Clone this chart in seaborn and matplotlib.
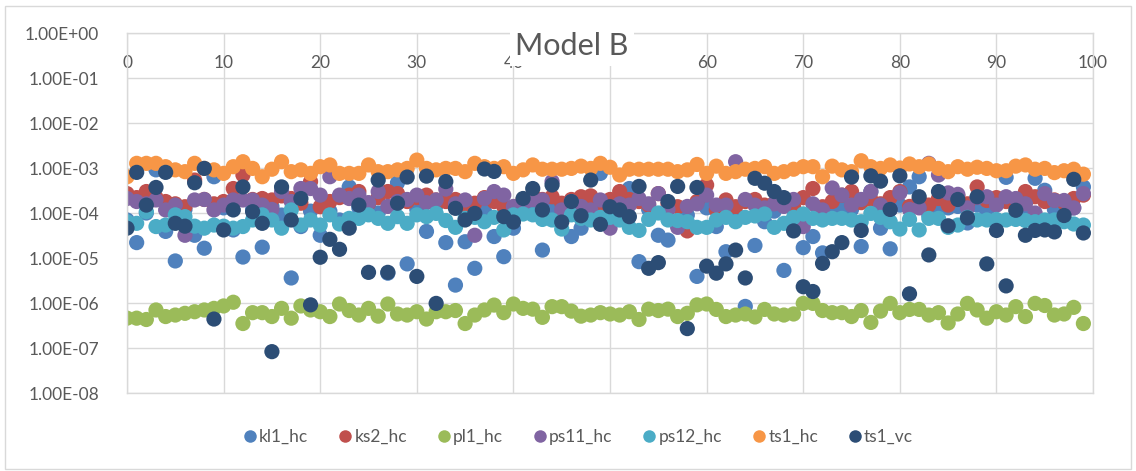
import numpy as np
import pandas as pd
import seaborn as sns
import matplotlib.pyplot as plt
from matplotlib.ticker import FuncFormatter, LogLocator, NullLocator
from matplotlib.lines import Line2D
from matplotlib.patches import Rectangle

# values (100 runs per series)
runs = list(range(100))
series_names = ['kl1_hc', 'ks2_hc', 'pl1_hc', 'ps11_hc', 'ps12_hc', 'ts1_hc', 'ts1_vc']
series_colors = ['#4F81BD', '#C0504D', '#9BBB59', '#8064A2', '#4BACC6', '#F79646', '#2C4D75']

kl1_hc = [7.0e-5, 2.2e-5, 1.0e-4, 9.1e-4, 3.9e-5, 8.6e-6, 1.2e-4, 3.2e-5, 1.65e-5, 6.4e-4,
          1.3e-4, 4.2e-5, 1.05e-5, 1.2e-4, 1.74e-5, 1.4e-4, 9.0e-5, 3.6e-6, 5.0e-5, 1.1e-4,
          3.2e-5, 1.1e-4, 7.0e-5, 3.8e-4, 1.3e-4, 1.5e-4, 1.0e-4, 4.6e-6, 4.7e-4, 7.4e-6,
          1.2e-4, 3.9e-5, 1.5e-4, 2.2e-5, 2.5e-6, 2.3e-5, 5.9e-6, 1.1e-4, 3.0e-5, 1.07e-5,
          4.6e-5, 1.2e-4, 1.3e-4, 1.5e-5, 1.4e-4, 1.0e-4, 3.0e-5, 4.6e-5, 1.3e-4, 7.6e-4,
          1.1e-4, 1.5e-4, 3.5e-4, 8.3e-6, 1.2e-4, 3.2e-5, 2.5e-5, 6.0e-5, 9.0e-5, 3.9e-6,
          1.3e-4, 5.0e-5, 1.38e-5, 1.0e-4, 8.4e-7, 1.9e-5, 6.4e-5, 1.1e-4, 5.3e-6, 1.2e-4,
          1.7e-5, 3.0e-5, 1.3e-5, 1.0e-4, 1.5e-4, 1.2e-4, 1.8e-5, 3.0e-4, 4.6e-5, 1.6e-5,
          1.5e-4, 3.8e-4, 6.4e-4, 9.0e-5, 1.2e-4, 1.3e-4, 1.4e-4, 6.0e-5, 1.5e-4, 1.0e-4,
          1.7e-4, 6.2e-4, 2.0e-4, 1.2e-4, 5.9e-4, 3.2e-4, 1.2e-4, 1.0e-4, 1.3e-4, 3.8e-4]

ks2_hc = [2.7e-4, 2.2e-4, 3.0e-4, 2.2e-4, 1.8e-4, 1.6e-4, 1.38e-4, 5.4e-4, 2.0e-4, 1.6e-4,
          1.8e-4, 3.5e-4, 7.0e-4, 2.0e-4, 2.1e-4, 1.95e-4, 2.4e-4, 2.1e-4, 1.65e-4, 5.0e-4,
          1.38e-4, 1.8e-4, 2.2e-4, 2.5e-4, 3.0e-4, 1.65e-4, 2.2e-4, 3.0e-4, 2.7e-4, 1.8e-4,
          2.2e-4, 2.5e-4, 1.95e-4, 1.8e-4, 2.0e-4, 1.38e-4, 1.65e-4, 2.2e-4, 1.8e-4, 1.38e-4,
          1.3e-4, 2.0e-4, 2.5e-4, 2.0e-4, 2.3e-4, 1.65e-4, 2.0e-4, 2.3e-4, 2.4e-4, 1.5e-4,
          2.0e-4, 3.0e-4, 2.0e-4, 1.8e-4, 1.5e-4, 2.7e-4, 1.6e-4, 1.38e-4, 4.0e-5, 1.8e-4,
          4.2e-4, 1.17e-4, 1.95e-4, 1.38e-4, 1.8e-4, 2.0e-4, 1.5e-4, 1.65e-4, 1.5e-4, 1.38e-4,
          2.2e-4, 3.5e-4, 1.38e-4, 1.8e-4, 2.5e-4, 3.0e-4, 1.7e-4, 2.0e-4, 1.6e-4, 2.2e-4,
          3.0e-4, 1.4e-4, 2.0e-4, 1.5e-4, 2.1e-4, 1.5e-4, 2.4e-4, 1.6e-4, 3.8e-4, 1.9e-4,
          2.2e-4, 1.8e-4, 2.0e-4, 3.0e-4, 2.3e-4, 1.8e-4, 1.95e-4, 1.7e-4, 2.1e-4, 2.5e-4]

pl1_hc = [4.6e-7, 4.6e-7, 4.3e-7, 7.0e-7, 5.0e-7, 5.4e-7, 5.9e-7, 6.4e-7, 7.0e-7, 7.6e-7,
          8.6e-7, 1.04e-6, 3.5e-7, 6.1e-7, 6.1e-7, 5.0e-7, 7.6e-7, 4.6e-7, 8.6e-7, 7.0e-7,
          6.4e-7, 5.0e-7, 9.5e-7, 6.8e-7, 5.4e-7, 7.6e-7, 5.1e-7, 9.5e-7, 5.7e-7, 5.4e-7,
          6.4e-7, 4.4e-7, 6.4e-7, 6.4e-7, 6.8e-7, 3.5e-7, 5.4e-7, 7.0e-7, 9.0e-7, 6.1e-7,
          9.5e-7, 7.6e-7, 7.3e-7, 4.8e-7, 8.3e-7, 8.3e-7, 6.6e-7, 5.1e-7, 5.4e-7, 6.1e-7,
          5.7e-7, 5.4e-7, 6.4e-7, 4.3e-7, 7.3e-7, 6.8e-7, 7.3e-7, 5.0e-7, 5.9e-7, 9.1e-7,
          9.5e-7, 7.2e-7, 5.0e-7, 5.4e-7, 5.7e-7, 4.9e-7, 7.2e-7, 5.7e-7, 5.4e-7, 5.7e-7,
          9.8e-7, 9.8e-7, 6.8e-7, 6.1e-7, 6.1e-7, 5.0e-7, 6.8e-7, 3.7e-7, 6.6e-7, 9.8e-7,
          6.1e-7, 7.2e-7, 7.2e-7, 5.4e-7, 6.1e-7, 3.6e-7, 5.7e-7, 9.8e-7, 7.0e-7, 4.6e-7,
          6.4e-7, 5.4e-7, 8.3e-7, 5.0e-7, 9.8e-7, 8.8e-7, 5.4e-7, 5.7e-7, 8.0e-7, 3.5e-7]

ps11_hc = [2.1e-4, 1.8e-4, 1.6e-4, 1.95e-4, 1.17e-4, 1.5e-4, 3.2e-5, 1.95e-4, 2.0e-4, 1.17e-4,
           1.5e-4, 1.95e-4, 1.95e-4, 1.95e-4, 1.5e-4, 1.2e-4, 3.0e-4, 1.8e-4, 3.5e-4, 3.5e-4,
           2.5e-4, 6.4e-4, 2.5e-4, 2.1e-4, 2.5e-4, 1.7e-4, 3.0e-4, 1.4e-4, 1.8e-4, 2.0e-4,
           2.5e-4, 1.7e-4, 1.95e-4, 3.4e-4, 1.6e-4, 1.95e-4, 3.2e-5, 2.1e-4, 3.0e-4, 2.5e-4,
           1.4e-4, 1.5e-4, 1.95e-4, 1.95e-4, 5.0e-4, 1.17e-4, 1.8e-4, 1.4e-4, 1.17e-4, 1.95e-4,
           4.6e-5, 1.6e-4, 1.5e-4, 2.1e-4, 1.6e-4, 2.7e-4, 1.2e-4, 4.8e-5, 1.4e-4, 1.6e-4,
           2.5e-4, 1.5e-4, 1.5e-4, 1.38e-3, 2.0e-4, 1.5e-4, 1.3e-4, 1.6e-4, 1.4e-4, 2.0e-4,
           5.0e-5, 1.6e-4, 1.17e-4, 3.6e-4, 2.5e-4, 1.5e-4, 2.0e-4, 3.0e-4, 1.5e-4, 1.2e-4,
           2.8e-4, 1.2e-4, 1.3e-4, 1.27e-3, 7.0e-4, 2.8e-4, 2.6e-4, 1.3e-4, 2.2e-4, 2.3e-4,
           1.5e-4, 2.3e-4, 2.1e-4, 1.6e-4, 1.0e-4, 2.7e-4, 1.9e-4, 1.9e-4, 1.3e-4, 2.7e-4]

ps12_hc = [6.4e-5, 5.9e-5, 1.07e-4, 5.0e-5, 5.4e-5, 9.1e-5, 8.3e-5, 5.1e-5, 4.6e-5, 5.4e-5,
           5.1e-5, 4.6e-5, 5.0e-5, 7.0e-5, 9.1e-5, 7.0e-5, 4.6e-5, 1.17e-4, 5.4e-5, 7.0e-5,
           5.4e-5, 9.1e-5, 5.7e-5, 7.6e-5, 7.6e-5, 9.1e-5, 7.6e-5, 5.9e-5, 8.3e-5, 5.9e-5,
           9.1e-5, 8.3e-5, 9.8e-5, 6.8e-5, 4.8e-5, 7.6e-5, 8.0e-5, 6.4e-5, 8.0e-5, 4.2e-5,
           9.1e-5, 9.5e-5, 9.1e-5, 7.2e-5, 7.0e-5, 4.4e-5, 9.1e-5, 7.6e-5, 7.0e-5, 8.0e-5,
           8.0e-5, 7.0e-5, 4.8e-5, 4.1e-5, 7.2e-5, 1.0e-4, 7.0e-5, 6.8e-5, 6.4e-5, 4.8e-5,
           4.8e-5, 7.0e-5, 8.0e-5, 6.4e-5, 8.0e-5, 8.6e-5, 9.5e-5, 4.8e-5, 5.9e-5, 8.0e-5,
           9.5e-5, 7.6e-5, 7.0e-5, 7.6e-5, 7.6e-5, 7.0e-5, 6.4e-5, 9.8e-5, 8.0e-5, 6.4e-5,
           4.4e-5, 7.2e-5, 4.2e-5, 7.6e-5, 7.6e-5, 4.8e-5, 5.4e-5, 8.0e-5, 7.0e-5, 7.0e-5,
           7.2e-5, 7.0e-5, 7.2e-5, 6.8e-5, 6.4e-5, 7.0e-5, 7.0e-5, 6.4e-5, 5.7e-5, 5.4e-5]

ts1_hc = [6.4e-4, 1.27e-3, 1.27e-3, 1.27e-3, 1.07e-3, 9.1e-4, 8.3e-4, 1.27e-3, 9.8e-4, 9.1e-4,
          7.6e-4, 1.07e-3, 1.38e-3, 9.8e-4, 6.4e-4, 9.4e-4, 1.38e-3, 8.3e-4, 9.1e-4, 7.6e-4,
          1.07e-3, 1.17e-3, 7.6e-4, 7.6e-4, 7.6e-4, 1.17e-3, 8.3e-4, 8.3e-4, 9.1e-4, 9.8e-4,
          1.5e-3, 9.8e-4, 9.1e-4, 9.8e-4, 9.8e-4, 8.3e-4, 1.27e-3, 1.07e-3, 9.8e-4, 1.07e-3,
          7.6e-4, 9.1e-4, 1.17e-3, 9.4e-4, 9.4e-4, 9.4e-4, 9.8e-4, 1.1e-3, 9.8e-4, 1.27e-3,
          1.04e-3, 7.0e-4, 9.4e-4, 9.4e-4, 9.4e-4, 9.4e-4, 9.4e-4, 8.3e-4, 9.1e-4, 1.2e-3,
          7.6e-4, 1.1e-3, 7.6e-4, 8.3e-4, 9.4e-4, 9.8e-4, 1.07e-3, 7.6e-4, 8.3e-4, 9.4e-4,
          1.07e-3, 1.07e-3, 6.4e-4, 1.1e-3, 9.1e-4, 8.3e-4, 1.45e-3, 1.07e-3, 9.8e-4, 1.17e-3,
          1.0e-3, 1.23e-3, 1.07e-3, 1.23e-3, 9.8e-4, 8.3e-4, 1.07e-3, 9.4e-4, 1.04e-3, 9.8e-4,
          8.7e-4, 8.7e-4, 1.1e-3, 1.17e-3, 9.4e-4, 9.8e-4, 7.9e-4, 8.7e-4, 9.4e-4, 7.3e-4]

ts1_vc = [4.6e-5, 8.0e-4, 1.5e-4, 3.7e-4, 8.0e-4, 5.9e-5, 5.1e-5, 4.7e-4, 9.8e-4, 4.4e-7,
          4.2e-5, 1.17e-4, 3.8e-4, 1.07e-4, 5.9e-5, 8.3e-8, 3.8e-4, 7.0e-5, 2.1e-4, 9.1e-7,
          1.04e-5, 2.6e-5, 1.56e-5, 4.6e-5, 1.5e-4, 4.8e-6, 5.4e-4, 4.8e-6, 1.65e-4, 6.3e-4,
          3.9e-6, 6.6e-4, 9.8e-7, 5.0e-4, 1.27e-4, 7.0e-5, 9.8e-5, 9.5e-4, 8.4e-4, 8.3e-5,
          6.3e-5, 2.1e-4, 3.5e-4, 1.17e-4, 4.2e-4, 6.3e-5, 1.8e-4, 8.7e-5, 5.4e-4, 5.6e-5,
          1.38e-4, 1.17e-4, 8.3e-5, 3.9e-4, 5.9e-6, 7.9e-6, 1.8e-4, 3.9e-4, 2.7e-7, 3.7e-4,
          6.6e-6, 4.6e-6, 7.4e-6, 1.5e-5, 3.6e-6, 5.9e-4, 4.6e-4, 3.0e-4, 2.2e-4, 4.0e-5,
          2.3e-6, 1.8e-6, 7.6e-6, 1.38e-5, 2.2e-5, 6.3e-4, 4.1e-5, 6.7e-4, 5.1e-4, 1.2e-4,
          6.7e-4, 1.6e-6, 2.3e-4, 1.17e-5, 3.0e-4, 5.2e-5, 2.0e-4, 7.8e-5, 2.3e-4, 7.4e-6,
          4.1e-5, 2.4e-6, 1.15e-4, 3.2e-5, 4.1e-5, 4.2e-5, 3.8e-5, 8.8e-5, 5.6e-4, 3.6e-5]

series_values = [kl1_hc, ks2_hc, pl1_hc, ps11_hc, ps12_hc, ts1_hc, ts1_vc]
x_ticks = list(range(0, 101, 10))
hidden_x_labels = [50]  # sits fully under the title box in the reference

df = pd.concat([pd.DataFrame({'run': runs, 'value': vals, 'series': name})
                for name, vals in zip(series_names, series_values)], ignore_index=True)

sns.set_style('white')
plt.rcParams['font.family'] = ['Lato', 'DejaVu Sans']
text_color = '#595959'
grid_color = '#D9D9D9'

fig = plt.figure(figsize=(11.36, 4.71), dpi=100)
fig.patches.append(Rectangle((0.004, 0.004), 0.992, 0.984, transform=fig.transFigure,
                             fill=False, edgecolor=grid_color, linewidth=1))
ax = fig.add_axes([0.1118, 0.1656, 0.8504, 0.7643])

sns.scatterplot(data=df, x='run', y='value', hue='series', hue_order=series_names,
                palette=series_colors, s=120, linewidth=0, alpha=1, ax=ax, legend=False)

ax.set_yscale('log')
ax.set_ylim(1e-8, 1)
ax.set_xlim(0, 100)
ax.yaxis.set_major_locator(LogLocator(base=10, numticks=20))
ax.yaxis.set_minor_locator(NullLocator())
ax.yaxis.set_major_formatter(FuncFormatter(lambda v, p: f"{v:.2E}"))
ax.set_xticks(x_ticks)
ax.set_xticklabels(['' if t in hidden_x_labels else str(t) for t in x_ticks])
ax.xaxis.set_ticks_position('top')
ax.tick_params(axis='x', length=0, pad=-27, labelsize=12.5, labelcolor=text_color)
ax.tick_params(axis='y', length=0, pad=20, labelsize=12.5, labelcolor=text_color)
ax.set_xlabel('')
ax.set_ylabel('')
ax.grid(True, color=grid_color, linewidth=1)
ax.set_axisbelow(True)
for sp in ax.spines.values():
    sp.set_color(grid_color)
    sp.set_linewidth(1)

fig.text(0.5035, 1 - 46 / 471, 'Model B', ha='center', va='center', fontsize=22,
         color=text_color, zorder=10,
         bbox=dict(boxstyle='square,pad=0.18', facecolor='white', edgecolor='none'))

handles = [Line2D([], [], marker='o', linestyle='', markersize=9, color=c,
                  markeredgewidth=0) for c in series_colors]
fig.legend(handles, series_names, loc='center', bbox_to_anchor=(0.508, 1 - 437 / 471),
           ncol=7, frameon=False, fontsize=12.5, labelcolor=text_color,
           handletextpad=0.05, columnspacing=1.6, handlelength=1.0)

fig.savefig('out.png', dpi=100)
